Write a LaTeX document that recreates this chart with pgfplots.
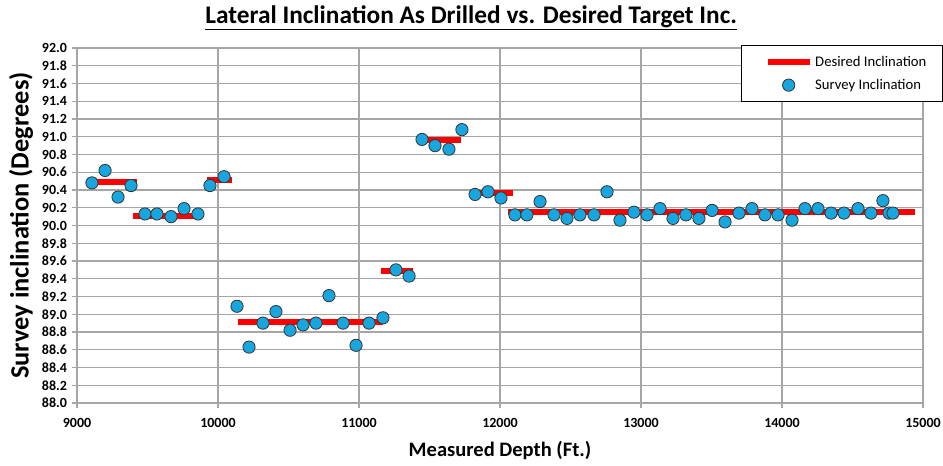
\documentclass[border=0pt]{standalone}
\usepackage{fontspec}
\setmainfont{Carlito}
\usepackage{pgfplots}
\pgfplotsset{compat=1.18}
\usetikzlibrary{calc}
\definecolor{surveyblue}{HTML}{18A6DF}
\definecolor{desiredred}{HTML}{FF0000}
\definecolor{gridgray}{HTML}{A6A6A6}

\pgfplotsset{
  linelegend/.style={legend image code/.code={\path (-0.26cm,0cm); \draw[##1] (0cm,0cm) -- (1.1cm,0cm);}},
  dotlegend/.style={legend image code/.code={\path (-0.26cm,0cm); \draw[##1] plot coordinates {(0.55cm,0cm)};}},
}

\pgfplotstableread{
md inc
9071 90.49
9426 90.49
nan nan
9397 90.11
9872 90.11
nan nan
9922 90.51
10099 90.51
nan nan
10142 88.91
11170 88.91
nan nan
11156 89.49
11383 89.49
nan nan
11425 90.96
11723 90.96
nan nan
11794 90.37
12092 90.37
nan nan
12057 90.15
14945 90.15
}\desired

\pgfplotstableread{
md inc
9106 90.48
9199 90.62
9291 90.32
9383 90.45
9482 90.13
9567 90.13
9667 90.10
9759 90.19
9858 90.13
9943 90.45
10043 90.55
10135 89.09
10220 88.63
10319 88.90
10411 89.03
10511 88.82
10603 88.88
10695 88.90
10787 89.21
10887 88.90
10979 88.65
11071 88.90
11170 88.96
11262 89.50
11355 89.43
11447 90.97
11539 90.90
11638 90.86
11730 91.08
11823 90.35
11915 90.38
12007 90.31
12106 90.12
12191 90.12
12284 90.27
12383 90.12
12475 90.08
12567 90.12
12667 90.12
12759 90.38
12851 90.06
12950 90.15
13043 90.12
13135 90.19
13227 90.08
13319 90.12
13411 90.08
13504 90.17
13596 90.04
13695 90.14
13787 90.19
13879 90.12
13972 90.12
14071 90.06
14163 90.19
14255 90.19
14348 90.14
14440 90.14
14539 90.19
14631 90.14
14716 90.28
14759 90.14
14787 90.14
}\survey

\begin{document}
\begin{tikzpicture}
\begin{axis}[
  name=ax,
  scale only axis,
  width=634.5pt, height=266.25pt,
  xmin=9000, xmax=15000, ymin=88, ymax=92,
  xtick={9000,10000,...,15000},
  ytick={88,88.2,...,92.01},
  scaled ticks=false,
  xmajorgrids, ymajorgrids,
  grid style={gridgray, line width=0.8pt},
  axis line style={gridgray, line width=0.8pt},
  tick style={gridgray, line width=0.8pt},
  tick align=outside,
  major tick length=4pt,
  xtick pos=bottom, ytick pos=left,
  ticklabel style={font=\fontsize{10.5}{12}\selectfont\bfseries, text=black},
  /pgf/number format/assume math mode=true,
  xticklabel style={/pgf/number format/.cd, fixed, 1000 sep={}, precision=0, /tikz/yshift=-4pt},
  yticklabel style={/pgf/number format/.cd, fixed, fixed zerofill, precision=1},
  xlabel={Measured Depth (Ft.)},
  ylabel={Survey inclination (Degrees)},
  xlabel style={font=\fontsize{15.4}{17}\selectfont\bfseries, at={(axis description cs:0.5,-0.135)}, anchor=center},
  ylabel style={font=\fontsize{19.8}{22}\selectfont\bfseries, at={(axis description cs:-0.066,0.5)}, anchor=center},
  every axis title shift=0pt,
  title={\underline{Lateral Inclination As Drilled vs. Desired Target Inc.}},
  title style={font=\fontsize{19}{21}\selectfont\bfseries, at={(axis description cs:0.466,1.085)}, anchor=center},
  unbounded coords=jump,
  legend style={at={(axis description cs:1.0236,1.0085)}, anchor=north east,
    draw=black, line width=0.8pt, font=\fontsize{11}{13}\selectfont,
    inner xsep=10pt, inner ysep=6pt, row sep=4pt},
  legend cell align=left,
]
\addplot[desiredred, line width=4.5pt, line cap=butt, no markers, linelegend] table[x=md, y=inc] {\desired};
\addlegendentry{Desired Inclination}
\addplot[only marks, mark=*, mark size=4.6pt, mark options={fill=surveyblue, draw=black!80, line width=0.6pt}, dotlegend]
  table[x=md, y=inc] {\survey};
\addlegendentry{Survey Inclination}
\end{axis}
\pgfresetboundingbox
\path ($(ax.south west)+(-57.75pt,-46.5pt)$) rectangle ($(ax.south west)+(649.5pt,302.25pt)$);
\end{tikzpicture}
\end{document}
